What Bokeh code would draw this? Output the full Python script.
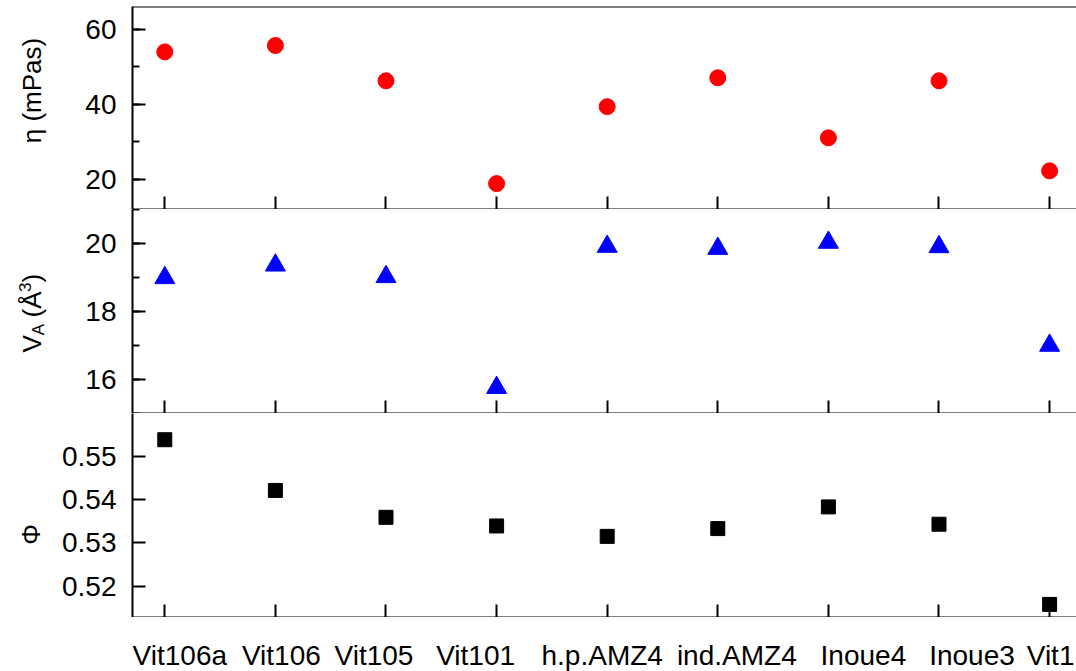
import math
from bokeh.plotting import figure
from bokeh.layouts import column, row
from bokeh.models import (Range1d, LinearAxis, FixedTicker, SingleIntervalTicker,
                          PrintfTickFormatter, Span, ColumnDataSource)
from bokeh.core.properties import value
from bokeh.embed import file_html
from bokeh.resources import INLINE

categories = ["Vit106a", "Vit106", "Vit105", "Vit101", "h.p.AMZ4",
              "ind.AMZ4", "Inoue4", "Inoue3", "Vit1"]
eta = [54.0, 55.7, 46.3, 18.9, 39.4, 47.1, 31.1, 46.3, 22.3]
va = [18.99, 19.36, 19.02, 15.76, 19.91, 19.85, 20.03, 19.90, 17.00]
phi = [0.5538, 0.5421, 0.5359, 0.5339, 0.5315, 0.5333, 0.5383, 0.5343, 0.5158]
# horizontal shift (px) of each category label relative to its tick
label_shift = [15, 6, -12, -21, -5, 19, 35, 33, 1]

xs = list(range(len(categories)))
FONT = "Liberation Sans"
FS = "28px"
LABW = 50          # width of the strip holding the y-axis titles
LEFT = 132 - LABW  # left border of the panels
W = 1076 - LABW
H_TOTAL = 671

X0, X1 = -0.292, -0.292 + (1076 - 132) / 110.6
xr = Range1d(X0, X1)


def make_fig(height, yr, top, bottom):
    p = figure(width=W, height=height, x_range=xr, y_range=yr,
               output_backend="svg", toolbar_location=None, tools="",
               min_border_left=LEFT, min_border_right=0,
               min_border_top=top, min_border_bottom=bottom,
               x_axis_type=None, y_axis_type=None)
    p.outline_line_color = None
    p.xgrid.visible = False
    p.ygrid.visible = False
    p.background_fill_color = "white"
    p.border_fill_color = "white"
    return p


def style_axis(ax):
    ax.axis_line_width = 2
    ax.axis_line_color = "black"
    ax.major_tick_line_width = 2
    ax.minor_tick_line_width = 2
    ax.major_tick_in = 13
    ax.major_tick_out = 0
    ax.minor_tick_in = 7
    ax.minor_tick_out = 0
    ax.major_label_text_font = FONT
    ax.major_label_text_font_size = FS
    ax.major_label_text_color = "black"


def add_x_axis(p):
    ax = LinearAxis(ticker=FixedTicker(ticks=xs, minor_ticks=[]))
    style_axis(ax)
    ax.major_label_overrides = {i: "" for i in xs}
    ax.major_label_text_font_size = "1px"
    ax.major_label_text_color = None
    ax.major_label_standoff = 0
    p.add_layout(ax, "below")


def add_y_axis(p, ticker, fmt=None):
    ax = LinearAxis(ticker=ticker)
    style_axis(ax)
    ax.major_label_standoff = 16
    if fmt:
        ax.formatter = fmt
    p.add_layout(ax, "left")


# Top panel
p1 = make_fig(209, Range1d(12, 66.1), 6, 0)
p1.scatter(xs, eta, marker="circle", size=16, fill_color="#ff0000",
           line_color="#ff0000")
add_x_axis(p1)
add_y_axis(p1, SingleIntervalTicker(interval=20, num_minor_ticks=2))
p1.add_layout(Span(location=66.1, dimension="width", line_color="black",
                   line_width=2))

# Middle panel
p2 = make_fig(204, Range1d(15, 21), 0, 0)
p2.scatter(xs, va, marker="triangle", size=20, fill_color="#0000ff",
           line_color="#0000ff")
add_x_axis(p2)
add_y_axis(p2, SingleIntervalTicker(interval=2, num_minor_ticks=2))

# Bottom panel
p3 = make_fig(204, Range1d(0.51278, 0.55985), 0, 0)
p3.scatter(xs, phi, marker="square", size=14, fill_color="black",
           line_color="black")
add_x_axis(p3)
add_y_axis(p3, SingleIntervalTicker(interval=0.01, num_minor_ticks=0),
           PrintfTickFormatter(format="%.2f"))

# Category labels strip
strip = figure(width=W, height=H_TOTAL - 617, x_range=xr, y_range=Range1d(0, 54),
               output_backend="svg", toolbar_location=None, tools="",
               min_border_left=LEFT, min_border_right=0, min_border_top=0,
               min_border_bottom=0, x_axis_type=None, y_axis_type=None)
strip.outline_line_color = None
strip.xgrid.visible = False
strip.ygrid.visible = False
src = ColumnDataSource(dict(x=xs, y=[H_TOTAL - 655] * len(xs), text=categories,
                            dx=label_shift))
strip.text(x="x", y="y", text="text", x_offset="dx", source=src,
           text_font=value(FONT), text_font_size=FS, text_align="center",
           text_baseline="middle", text_color="black")

# Y-axis titles strip
lab = figure(width=LABW, height=H_TOTAL, x_range=Range1d(0, LABW),
             y_range=Range1d(0, H_TOTAL), output_backend="svg",
             toolbar_location=None, tools="", min_border=0,
             x_axis_type=None, y_axis_type=None)
lab.outline_line_color = None
lab.xgrid.visible = False
lab.ygrid.visible = False


def title(x, sy, text, size="26px", align="left"):
    lab.text(x=[x], y=[H_TOTAL - sy], text=[text], angle=math.pi / 2,
             text_font=value(FONT), text_font_size=size, text_align=align,
             text_baseline="middle", text_color="black")


title(31, 90, "\u03b7 (mPas)", align="center")
title(31, 352, "V")
title(38, 334.7, "A", size="17px")
title(31, 317, "(\u00c5")
title(24, 291.5, "3", size="17px")
title(31, 282, ")")
title(30, 534, "\u03a6", align="center")

layout = row(lab, column(p1, p2, p3, strip, spacing=0), spacing=0)
open("out.html", "w").write(file_html(layout, INLINE))
